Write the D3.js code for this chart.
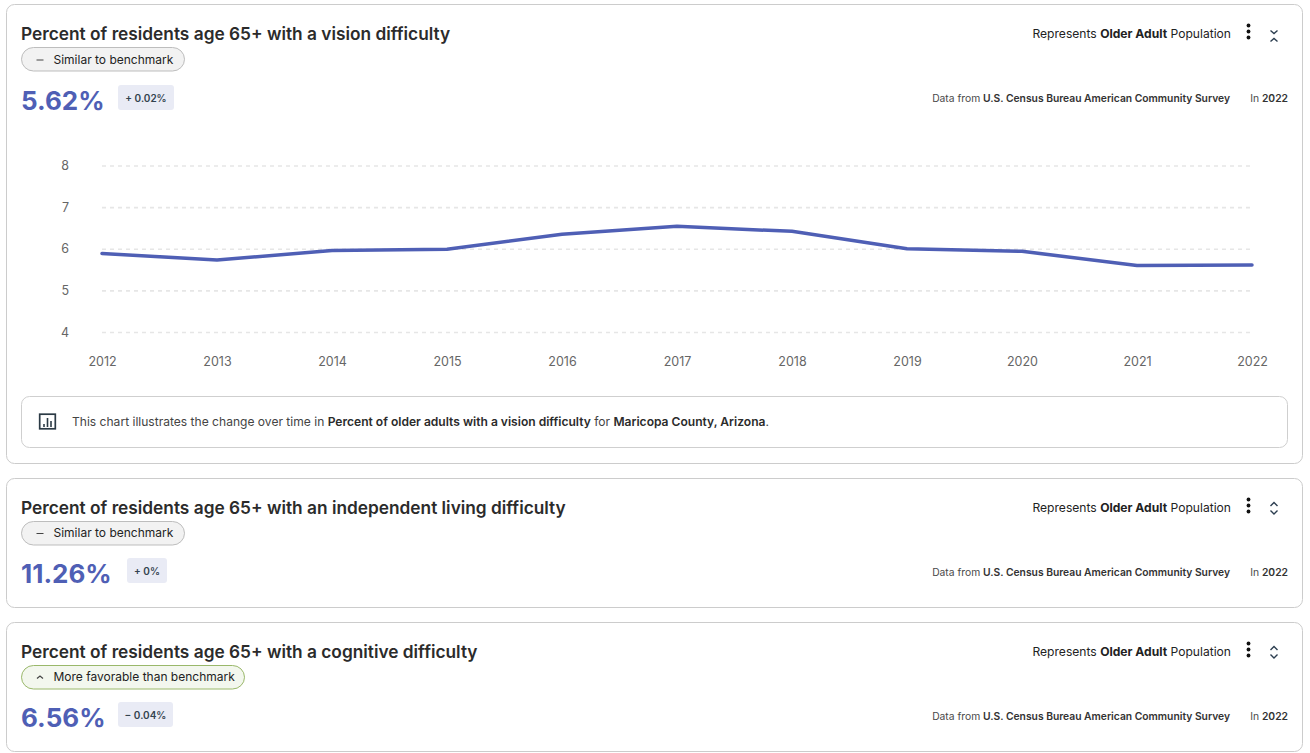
<![CDATA[<!DOCTYPE html>
<html><head><meta charset="utf-8">
<script src="https://cdn.jsdelivr.net/npm/d3@7"></script>
<style>
html,body{margin:0;padding:0;background:#fff;overflow:hidden}
svg{display:block}
text{font-family:Inter,"Liberation Sans",sans-serif}
</style></head><body><svg id="c" width="1310" height="753"></svg>
<script>
const years=[2012,2013,2014,2015,2016,2017,2018,2019,2020,2021,2022];
const visionValues=[5.9,5.74,5.97,6.0,6.36,6.55,6.43,6.01,5.95,5.61,5.62];
const yTicks=[4,5,6,7,8];
const cardTitles=["Percent of residents age 65+ with a vision difficulty","Percent of residents age 65+ with an independent living difficulty","Percent of residents age 65+ with a cognitive difficulty"];
const badges=["Similar to benchmark","Similar to benchmark","More favorable than benchmark"];
const bigValues=["5.62%","11.26%","6.56%"];
const deltas=["+ 0.02%","+ 0%","− 0.04%"];
const cardTops=[4,478,622];
const cardHeights=[459,129,129];
const badgeWidths=[163,163,223];
const deltaX=[118,127,118];
const deltaW=[56,40,55];
const deltaTop=[81,80,80];

const svg=d3.select("#c");
const INK="#2b2b2b",BLUE="#4f5fb5";

cardTitles.forEach((t,i)=>{
  const y0=cardTops[i];
  const shift=i===0?0:1;
  const g=svg.append("g");
  g.append("rect").attr("x",6.5).attr("y",y0+.5).attr("width",1296).attr("height",cardHeights[i]).attr("rx",8)
    .attr("fill","#fff").attr("stroke","#cccccc");
  g.append("text").attr("x",21).attr("y",y0+35.5).attr("font-size",17.3).attr("font-weight",600).attr("fill",INK).text(t);
  const fav=i===2;
  g.append("rect").attr("x",21.5).attr("y",y0+43.5).attr("width",badgeWidths[i]).attr("height",23.5).attr("rx",12)
    .attr("fill",fav?"#f3f7ee":"#f2f2f2").attr("stroke",fav?"#9ab86a":"#bdbdbd");
  if(fav){
    g.append("path").attr("d",`M37 ${y0+56.5}l3 -2.5l3 2.5`).attr("fill","none").attr("stroke","#444").attr("stroke-width",1.2);
  } else {
    g.append("path").attr("d",`M36.5 ${y0+56-shift/2}h7`).attr("stroke","#444").attr("stroke-width",1);
  }
  g.append("text").attr("x",53.5).attr("y",y0+59.5-shift).attr("font-size",12).attr("fill","#222").text(badges[i]);
  g.append("text").attr("x",21).attr("y",y0+105.5-shift).attr("font-size",26).attr("font-weight",700).attr("fill",BLUE).text(bigValues[i]);
  g.append("rect").attr("x",deltaX[i]).attr("y",y0+deltaTop[i]).attr("width",deltaW[i]).attr("height",25).attr("rx",3).attr("fill","#e9ebf5");
  g.append("text").attr("x",deltaX[i]+deltaW[i]/2).attr("y",y0+deltaTop[i]+17).attr("text-anchor","middle").attr("font-size",10).attr("font-weight",600).attr("fill","#33434f").text(deltas[i]);
  const rep=g.append("text").attr("x",1231).attr("y",y0+34).attr("text-anchor","end").attr("font-size",12.1).attr("fill","#222");
  rep.append("tspan").text("Represents ");
  rep.append("tspan").attr("font-weight",700).text("Older Adult");
  rep.append("tspan").text(" Population");
  [-6,0,6].forEach(d=>g.append("circle").attr("cx",1248.5).attr("cy",y0+27.5+d).attr("r",1.9).attr("fill","#111"));
  const cx=1274;
  const chev=i===0
    ?[`M${cx-3.5} ${y0+26.5}l3.5 3l3.5 -3`,`M${cx-3.5} ${y0+37.5}l3.5 -3l3.5 3`]
    :[`M${cx-3.5} ${y0+28}l3.5 -3.5l3.5 3.5`,`M${cx-3.5} ${y0+32.5}l3.5 3.5l3.5 -3.5`];
  chev.forEach(d=>g.append("path").attr("d",d).attr("fill","none").attr("stroke","#2c3e50").attr("stroke-width",1.4));
  const src=g.append("text").attr("x",1230).attr("y",y0+98).attr("text-anchor","end").attr("font-size",10.3).attr("fill","#4a4a4a");
  src.append("tspan").text("Data from ");
  src.append("tspan").attr("font-weight",600).attr("fill","#333").text("U.S. Census Bureau American Community Survey");
  const yr=g.append("text").attr("x",1288).attr("y",y0+98).attr("text-anchor","end").attr("font-size",10.3).attr("fill","#4a4a4a");
  yr.append("tspan").text("In ");
  yr.append("tspan").attr("font-weight",600).attr("fill","#333").text(years[years.length-1]);
});

const x=d3.scalePoint().domain(years).range([102,1252]);
const y=d3.scaleLinear().domain([4,8]).range([332.5,166]);
const grid=svg.append("g");
grid.selectAll("line").data(yTicks).join("line")
  .attr("x1",102).attr("x2",1252).attr("y1",d=>y(d)).attr("y2",d=>y(d))
  .attr("stroke","#e6e6e6").attr("stroke-width",1.6).attr("stroke-dasharray","4 4");
const yAxis=d3.axisLeft(y).tickValues(yTicks).tickSize(0).tickPadding(0).tickFormat(d3.format("d"));
const ya=svg.append("g").attr("transform","translate(69,0)").call(yAxis);
ya.select(".domain").remove();
ya.selectAll("text").attr("font-size",12.5).attr("fill","#666").attr("dy","0.32em").attr("y",-0.4).attr("font-family","Roboto,sans-serif");
const xAxis=d3.axisBottom(x).tickSize(0).tickPadding(0).tickFormat(d3.format("d"));
const xa=svg.append("g").attr("transform","translate(0,357)").call(xAxis);
xa.select(".domain").remove();
xa.selectAll("text").attr("font-size",12.5).attr("fill","#666").attr("dy","0.71em").attr("font-family","Roboto,sans-serif");
const line=d3.line().x((d,i)=>x(years[i])).y(d=>y(d));
svg.append("path").datum(visionValues).attr("d",line).attr("fill","none").attr("stroke",BLUE).attr("stroke-width",3.5).attr("stroke-linecap","round").attr("stroke-linejoin","round");

svg.append("rect").attr("x",21.5).attr("y",396.5).attr("width",1266).attr("height",51).attr("rx",8).attr("fill","#fff").attr("stroke","#cfcfcf");
const ic=svg.append("g").attr("fill","none").attr("stroke","#2b3a45");
ic.append("rect").attr("x",39.7).attr("y",414.2).attr("width",15.6).attr("height",14.6).attr("stroke-width",1.7);
[[44,424,427],[47.5,418,427],[51,421,427]].forEach(d=>ic.append("path").attr("d",`M${d[0]} ${d[1]}V${d[2]}`).attr("stroke-width",1.6));
const note=svg.append("text").attr("x",72).attr("y",426).attr("font-size",12.07).attr("fill","#444");
note.append("tspan").text("This chart illustrates the change over time in ");
note.append("tspan").attr("font-weight",600).attr("fill","#2b2b2b").text("Percent of older adults with a vision difficulty");
note.append("tspan").text(" for ");
note.append("tspan").attr("font-weight",600).attr("fill","#2b2b2b").text("Maricopa County, Arizona");
note.append("tspan").text(".");
</script></body></html>]]>
